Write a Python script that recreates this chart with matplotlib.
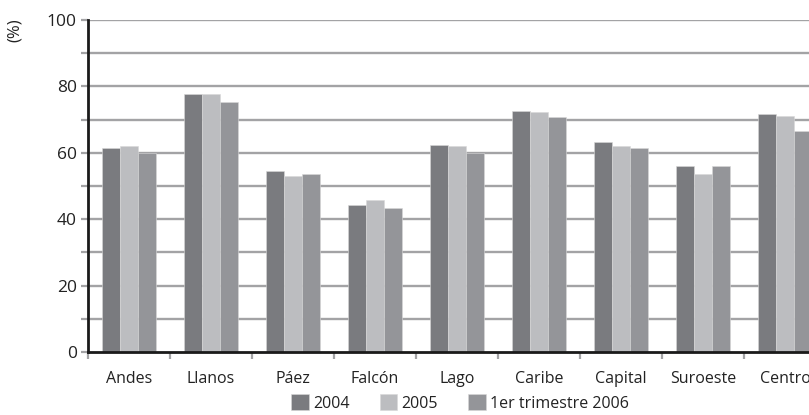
import matplotlib
matplotlib.use("Agg")
import matplotlib.pyplot as plt
import numpy as np

categories = ["Andes", "Llanos", "Páez", "Falcón", "Lago", "Caribe", "Capital", "Suroeste", "Centro"]
series_names = ["2004", "2005", "1er trimestre 2006"]
v2004 = [61.5, 77.7, 54.4, 44.3, 62.3, 72.6, 63.3, 55.9, 71.7]
v2005 = [62.0, 77.7, 53.1, 45.8, 61.9, 72.2, 61.9, 53.6, 71.2]
v2006 = [60.0, 75.3, 53.6, 43.4, 60.0, 70.8, 61.5, 55.9, 66.7]
colors = ["#7a7b7f", "#bcbdc0", "#949599"]

plt.rcParams['font.family'] = ['Open Sans', 'DejaVu Sans']

fig = plt.figure(figsize=(8.09, 4.15), dpi=100)
ax = fig.add_axes([88/809, 63/415, 738/809, 332/415])

x = np.arange(len(categories))
w = 0.22
handles = []
for i, (vals, c, name) in enumerate(zip([v2004, v2005, v2006], colors, series_names)):
    b = ax.bar(x + (i - 1) * w, vals, width=w, color=c, edgecolor="#d8d8d8", linewidth=0.4,
               label=name, zorder=3)
    handles.append(b)

ax.set_xlim(-0.5, len(categories) - 0.5)
ax.set_ylim(0, 100)
ax.set_yticks(np.arange(0, 101, 20))
ax.set_yticks(np.arange(10, 100, 20), minor=True)
for yv in range(10, 101, 10):
    ax.axhline(yv, color="#a3a3a5", linewidth=1.7, zorder=1)

ax.set_xticks(x)
ax.set_xticklabels(categories)
ax.set_xticks(np.arange(-0.5, len(categories), 1), minor=True)
ax.tick_params(axis='x', which='major', length=0, pad=14, labelsize=11.5, labelcolor="#222222")
ax.tick_params(axis='x', which='minor', length=5, width=1.6, color="#a3a3a5", direction='out')
ax.tick_params(axis='y', which='both', length=5, width=1.6, color="#a3a3a5", direction='out',
               labelsize=12.5, labelcolor="#222222", pad=3)

for s in ["top", "right"]:
    ax.spines[s].set_visible(False)
ax.spines["left"].set_color("#1a1a1a")
ax.spines["left"].set_linewidth(2)
ax.spines["bottom"].set_color("#1a1a1a")
ax.spines["bottom"].set_linewidth(2)
ax.spines["left"].set_zorder(4)
ax.spines["bottom"].set_zorder(4)

fig.text(15/809, 1 - 30/415, "(%)", rotation=90, ha="center", va="center", fontsize=12, color="#222222")

fig.legend(handles=handles, labels=series_names, loc="center", bbox_to_anchor=(460/809, 1 - 403/415),
           ncol=3, frameon=False, fontsize=11.5, handlelength=1.1, handleheight=1.1,
           handletextpad=0.25, columnspacing=1.9, labelcolor="#222222")

fig.savefig("out.png", dpi=100)
